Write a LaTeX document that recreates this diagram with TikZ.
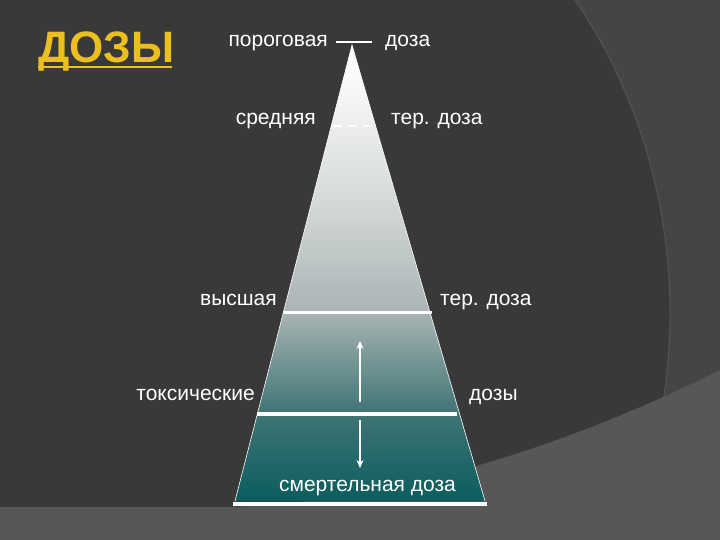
\documentclass[tikz,border=0pt]{standalone}
\usepackage{fontspec}
\setmainfont{Liberation Sans}
\usetikzlibrary{arrows.meta}
\definecolor{bgdark}{HTML}{393939}
\definecolor{bgmid}{HTML}{454545}
\definecolor{bglight}{HTML}{575757}
\definecolor{gold}{HTML}{EBC01E}
\definecolor{tealb}{HTML}{0B5D5F}
\definecolor{pc2}{HTML}{3E7474}
\definecolor{pc3}{HTML}{A9B4B4}
\definecolor{pc4}{HTML}{D5D9D9}
\definecolor{pc5}{HTML}{F7F7F7}
\pgfdeclareverticalshading{pyr}{100bp}{color(0bp)=(tealb); color(25bp)=(tealb); color(34.5bp)=(pc2); color(45.7bp)=(pc3); color(58bp)=(pc4); color(70bp)=(pc5); color(75bp)=(white); color(100bp)=(white)}
\begin{document}
\begin{tikzpicture}[x=1pt,y=-1pt,
  lbl/.style={text=white,font=\fontsize{21}{25}\selectfont,inner sep=0pt},
  wline/.style={draw=white,line width=3pt},
  darr/.style={draw=white,line width=1.8pt,-{Stealth[length=8pt,width=7pt]}}]
\useasboundingbox (0,0) rectangle (720,540);
% background
\fill[bgdark] (0,0) rectangle (720,540);
\fill[bgmid] (575,0) .. controls (650,110) and (690,260) .. (660,420) -- (720,420) -- (720,0) -- cycle;
\draw[color=white!8!bgmid, line width=1pt] (575,0) .. controls (650,110) and (690,260) .. (660,420);
\fill[bglight] (0,507) -- (220,507) .. controls (380,505) and (560,450) .. (720,370) -- (720,540) -- (0,540) -- cycle;
% pyramid
\coordinate (apex) at (352,45);
\coordinate (bl) at (235,501);
\coordinate (br) at (485,501);
\shade[shading=pyr] (apex) -- (br) -- (bl) -- cycle;
\draw[white, line width=0.6pt] (bl) -- (apex) -- (br);
% level lines
\coordinate (t1) at (336,42); \coordinate (t2) at (372,42);
\draw[white, line width=2pt] (t1) -- (t2);
\coordinate (m1) at (333,126); \coordinate (m2) at (371,126);
\draw[white, line width=1.5pt, dash pattern=on 9pt off 6pt] (m1) -- (m2);
\coordinate (h1) at (283,312); \coordinate (h2) at (432,312);
\draw[wline] (h1) -- (h2);
\coordinate (x1) at (257,414); \coordinate (x2) at (457,414);
\draw[wline, line width=4pt] (x1) -- (x2);
\coordinate (b1) at (233,504); \coordinate (b2) at (487,504);
\draw[wline, line width=4pt] (b1) -- (b2);
% arrows
\coordinate (a1) at (360,402); \coordinate (a2) at (360,341);
\draw[darr] (a1) -- (a2);
\coordinate (a3) at (360,420); \coordinate (a4) at (360,468);
\draw[darr] (a3) -- (a4);
% labels
\node[lbl,anchor=base east] (porog) at (328,47) {пороговая};
\node[lbl,anchor=base west] (doza1) at (385,47) {доза};
\node[lbl,anchor=base east] (sred) at (316,125) {средняя};
\node[lbl,anchor=base west] (ter1) at (391,125) {тер. доза};
\node[lbl,anchor=base east] (vys) at (277,305) {высшая};
\node[lbl,anchor=base west] (ter2) at (440,305) {тер. доза};
\node[lbl,anchor=base east] (tox) at (255,400) {токсические};
\node[lbl,anchor=base west] (dozy) at (469,400) {дозы};
\node[lbl,anchor=base] (smert) at (367.5,491) {смертельная доза};
% title
\node[anchor=base west, text=gold, font=\fontsize{44}{50}\bfseries\selectfont, inner sep=0pt] (title) at (38,63) {ДОЗЫ};
\coordinate (u1) at (38,67); \coordinate (u2) at (172,67);
\draw[gold, line width=2.5pt] (u1) -- (u2);
\end{tikzpicture}
\end{document}
